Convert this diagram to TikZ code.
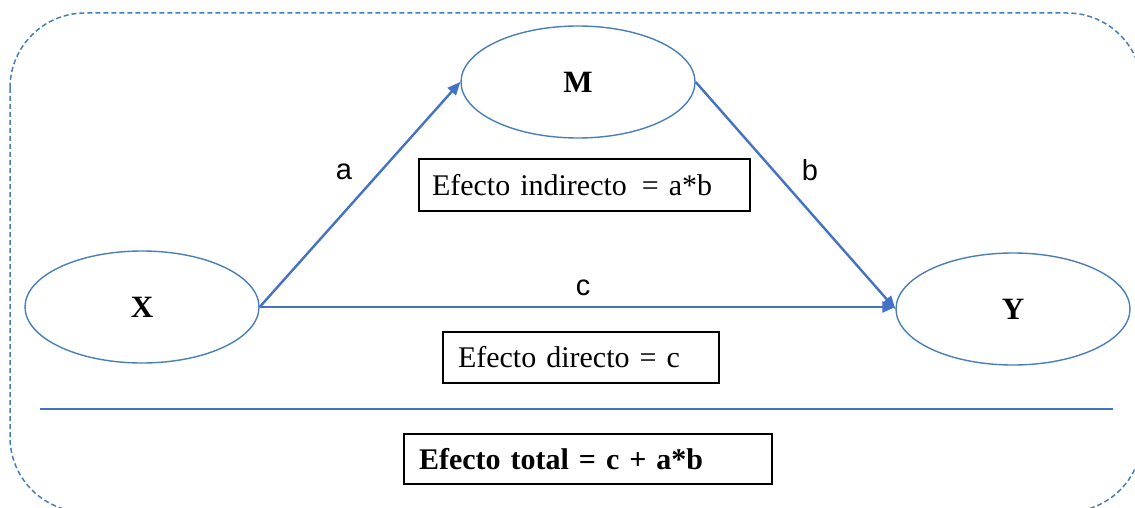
\documentclass[tikz,border=0pt]{standalone}
\usepackage{fontspec}
\setmainfont{Liberation Serif}
\newfontfamily\arialfont{Liberation Sans}
\usetikzlibrary{shapes.geometric,arrows.meta}
\definecolor{oblue}{HTML}{4A7EBB}
\definecolor{aline}{HTML}{4472C4}
\tikzset{
  var/.style={ellipse, draw=oblue, line width=1.4pt, minimum width=234pt, minimum height=112pt, inner sep=0pt, font=\fontsize{31}{37}\selectfont\bfseries},
  conn/.style={draw=aline, line width=2.4pt, -{Triangle[length=13pt,width=11pt]}},
  lbl/.style={font=\arialfont\fontsize{29}{34}\selectfont, inner sep=0pt},
  textbox/.style={draw=black, line width=1.5pt, align=left, inner ysep=0pt, font=\fontsize{30}{36}\selectfont},
}
\begin{document}
\begin{tikzpicture}[x=1pt,y=-1pt]
\clip (0,0) rectangle (1135,508);
\fill[white] (0,0) rectangle (1135,508);
% dashed frame
\draw[oblue, line width=1.5pt, dash pattern=on 5pt off 3pt, rounded corners=75pt] (10,13) rectangle (1142,512);
% variables
\node[var] (M) at (578,82) {M};
\node[var] (X) at (142,307) {X};
\node[var] (Y) at (1013,309) {Y};
% paths
\draw[conn] (X.east) -- (M.west);
\draw[conn] (M.east) -- (Y.west);
\coordinate (cEnd) at (X.east -| Y.west);
\draw[conn] (X.east) -- (cEnd);
% labels
\node[lbl] (la) at (344,172) {a};
\node[lbl] (lb) at (810,170) {b};
\node[lbl] (lc) at (583,288) {c};
% boxes
\node[textbox, minimum width=331pt, minimum height=52pt, text width=305pt, inner xsep=13pt] (ind) at (584.5,185) {Efecto indirecto \,= a*b};
\node[textbox, minimum width=276pt, minimum height=51pt, text width=246pt, inner xsep=15pt] (dir) at (581,357.5) {Efecto directo = c};
% separator
\coordinate (s1) at (40,409);
\coordinate (s2) at (1113,409);
\draw[aline, line width=2.4pt] (s1) -- (s2);
\node[textbox, minimum width=368pt, minimum height=50pt, text width=338pt, inner xsep=15pt, font=\fontsize{30}{36}\selectfont\bfseries] (tot) at (588,459) {Efecto total = c + a*b};
\end{tikzpicture}
\end{document}
